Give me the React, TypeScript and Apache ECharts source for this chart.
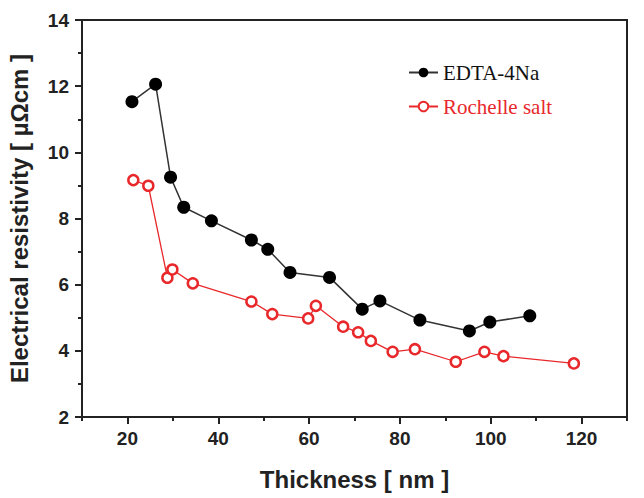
import React, { useEffect, useRef } from 'react';
import * as echarts from 'echarts';

const edtaX = [21.0, 26.2, 29.5, 32.4, 38.5, 47.3, 50.9, 55.8, 64.5, 71.7, 75.6, 84.4, 95.3, 99.8, 108.6];
const edtaY = [11.53, 12.06, 9.25, 8.34, 7.93, 7.35, 7.07, 6.37, 6.22, 5.26, 5.51, 4.93, 4.6, 4.87, 5.06];
const rochX = [21.3, 24.6, 28.8, 29.9, 34.4, 47.3, 51.9, 59.8, 61.5, 67.5, 70.8, 73.6, 78.4, 83.3, 92.3, 98.6, 102.8, 118.3];
const rochY = [9.16, 8.99, 6.21, 6.46, 6.04, 5.49, 5.11, 4.98, 5.36, 4.73, 4.56, 4.3, 3.97, 4.05, 3.67, 3.97, 3.84, 3.62];
const xMajorTicks = [20, 40, 60, 80, 100, 120];
const xMinorTicks = [10, 30, 50, 70, 90, 110, 130];
const seriesNames = ['EDTA-4Na', 'Rochelle salt'];
const xTitle = 'Thickness [ nm ]';
const yTitle = 'Electrical resistivity [ µΩcm ]';

const AXIS = '#222';
const RED = '#e8282b';

export default function App() {
  const ref = useRef<HTMLDivElement>(null);
  useEffect(() => {
    if (!ref.current) return;
    const chart = echarts.init(ref.current, undefined, { renderer: 'svg' });
    const labelFont = { fontFamily: 'Liberation Sans, Arial, sans-serif', fontWeight: 'bold' as const, color: '#222' };
    chart.setOption({
      animation: false,
      backgroundColor: '#fff',
      grid: {
        left: 82, right: 17, top: 20, bottom: 81,
        outerBoundsMode: 'none', containLabel: false,
        show: true, borderColor: AXIS, borderWidth: 2, backgroundColor: 'transparent',
      },
      legend: {
        orient: 'vertical',
        left: 403,
        top: 57,
        itemWidth: 29,
        itemHeight: 12,
        itemGap: 13,
        textStyle: { fontFamily: 'Liberation Serif, Times New Roman, serif', fontSize: 21 },
        data: [
          { name: seriesNames[0], textStyle: { color: '#111' } },
          { name: seriesNames[1], textStyle: { color: RED } },
        ],
      },
      xAxis: [
        {
          type: 'value', min: 10, max: 130,
          name: xTitle, nameLocation: 'middle', nameGap: 50,
          nameTextStyle: { ...labelFont, fontSize: 24 },
          axisLine: { show: true, lineStyle: { color: AXIS, width: 2 } },
          axisTick: { show: true, length: 7, customValues: xMajorTicks, lineStyle: { color: AXIS, width: 2 } },
          axisLabel: { show: true, customValues: xMajorTicks, margin: 12, fontSize: 19, ...labelFont },
          splitLine: { show: false },
        },
        {
          type: 'value', min: 10, max: 130, position: 'bottom',
          axisLine: { show: false },
          axisTick: { show: true, length: 4, customValues: xMinorTicks, lineStyle: { color: AXIS, width: 2 } },
          axisLabel: { show: false },
          splitLine: { show: false },
        },
      ],
      yAxis: {
        type: 'value', min: 2, max: 14, interval: 2,
        name: yTitle, nameLocation: 'middle', nameGap: 51,
        nameTextStyle: { ...labelFont, fontSize: 24 },
        axisLine: { show: true, lineStyle: { color: AXIS, width: 2 } },
        axisTick: { show: true, length: 7, lineStyle: { color: AXIS, width: 2 } },
        minorTick: { show: true, splitNumber: 2, length: 4, lineStyle: { color: AXIS, width: 2 } },
        axisLabel: { margin: 13, fontSize: 19, ...labelFont },
        splitLine: { show: false },
      },
      series: [
        {
          name: seriesNames[0], type: 'line', xAxisIndex: 0,
          data: edtaX.map((x, i) => [x, edtaY[i]]),
          symbol: 'circle', symbolSize: 13,
          itemStyle: { color: '#000' },
          lineStyle: { color: '#333', width: 1.5 },
        },
        {
          name: seriesNames[1], type: 'line', xAxisIndex: 0,
          data: rochX.map((x, i) => [x, rochY[i]]),
          symbol: 'circle', symbolSize: 10,
          itemStyle: { color: '#fff', borderColor: RED, borderWidth: 2.5 },
          lineStyle: { color: RED, width: 1.3 },
        },
      ],
    });
    return () => chart.dispose();
  }, []);
  return <div ref={ref} style={{ position: 'fixed', left: 0, top: 0, width: 644, height: 498 }} />;
}
